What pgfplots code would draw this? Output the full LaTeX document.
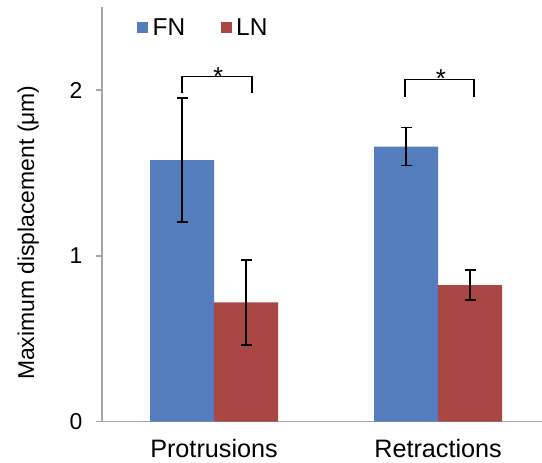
\documentclass[border=0pt]{standalone}
\usepackage{pgfplots}
\pgfplotsset{compat=1.18}
\usepackage{fontspec}
\setmainfont{Liberation Sans}
\definecolor{fnblue}{RGB}{84,125,190}
\definecolor{lnred}{RGB}{170,70,68}
\definecolor{axgray}{RGB}{165,165,165}
\begin{document}
\begin{tikzpicture}
\begin{axis}[
  at={(102bp,41.3bp)}, anchor=south west,
  scale only axis,
  width=440bp, height=414.5bp,
  xmin=-0.5, xmax=1.464,
  ymin=0, ymax=2.5,
  ybar=0pt, bar width=0.2857,
  axis x line=bottom, axis y line=left,
  axis line style={axgray, line width=1.5bp, -},
  xtick={0,1}, xticklabels={Protrusions,Retractions},
  x tick style={draw=none},
  extra x ticks={0.5}, extra x tick labels={},
  extra x tick style={major tick length=7bp, tick style={axgray, line width=1.5bp}, tick align=outside},
  ytick={0,1,2},
  tick align=outside,
  major tick length=6bp,
  y tick style={axgray, line width=1.5bp},
  /pgf/number format/assume math mode=true,
  yticklabel style={font=\fontsize{23}{27}\selectfont, xshift=-10bp},
  xticklabel style={font=\fontsize{25.3}{29}\selectfont, yshift=-8bp},
  ylabel={Maximum displacement (μm)},
  ylabel style={font=\fontsize{23}{27}\selectfont, at={(axis description cs:-0.168,0.456)}, anchor=center, rotate=0},
  legend style={draw=none, fill=none, at={(axis description cs:0.0795,0.95)}, anchor=west,
    legend columns=2, inner sep=0pt, font=\fontsize{24.5}{28}\selectfont,
    nodes={inner sep=4.5bp},
    /tikz/every even column/.append style={column sep=31bp}},
  legend image code/.code={\fill[#1,draw=none] (0bp,-5.5bp) rectangle (11bp,5.5bp);},
  error bars/y dir=both, error bars/y explicit,
  error bars/error bar style={black, line width=1.5bp},
  error bars/error mark options={rotate=90, mark size=5.5bp, line width=1.5bp, black},
]
\addplot[fill=fnblue, draw=none] coordinates {
  (0,1.577) +- (0,0.374)
  (1,1.659) +- (0,0.114)
};
\addplot[fill=lnred, draw=none] coordinates {
  (0,0.720) +- (0,0.256)
  (1,0.824) +- (0,0.091)
};
\legend{FN,LN}
\addplot[black, line width=1.5bp, sharp plot, forget plot, no marks] coordinates {
  (-0.144,1.982) (-0.144,2.081) (0.170,2.081) (0.170,1.982)
};
\addplot[black, line width=1.5bp, sharp plot, forget plot, no marks] coordinates {
  (0.853,1.960) (0.853,2.065) (1.161,2.065) (1.161,1.960)
};
\node[anchor=base, font=\fontsize{26}{30}\selectfont, inner sep=0pt] at (axis cs:0.018,2.030) {*};
\node[anchor=base, font=\fontsize{26}{30}\selectfont, inner sep=0pt] at (axis cs:1.013,2.018) {*};
\end{axis}
\pgfresetboundingbox
\useasboundingbox (0,0) rectangle (542bp,463bp);
\end{tikzpicture}
\end{document}
